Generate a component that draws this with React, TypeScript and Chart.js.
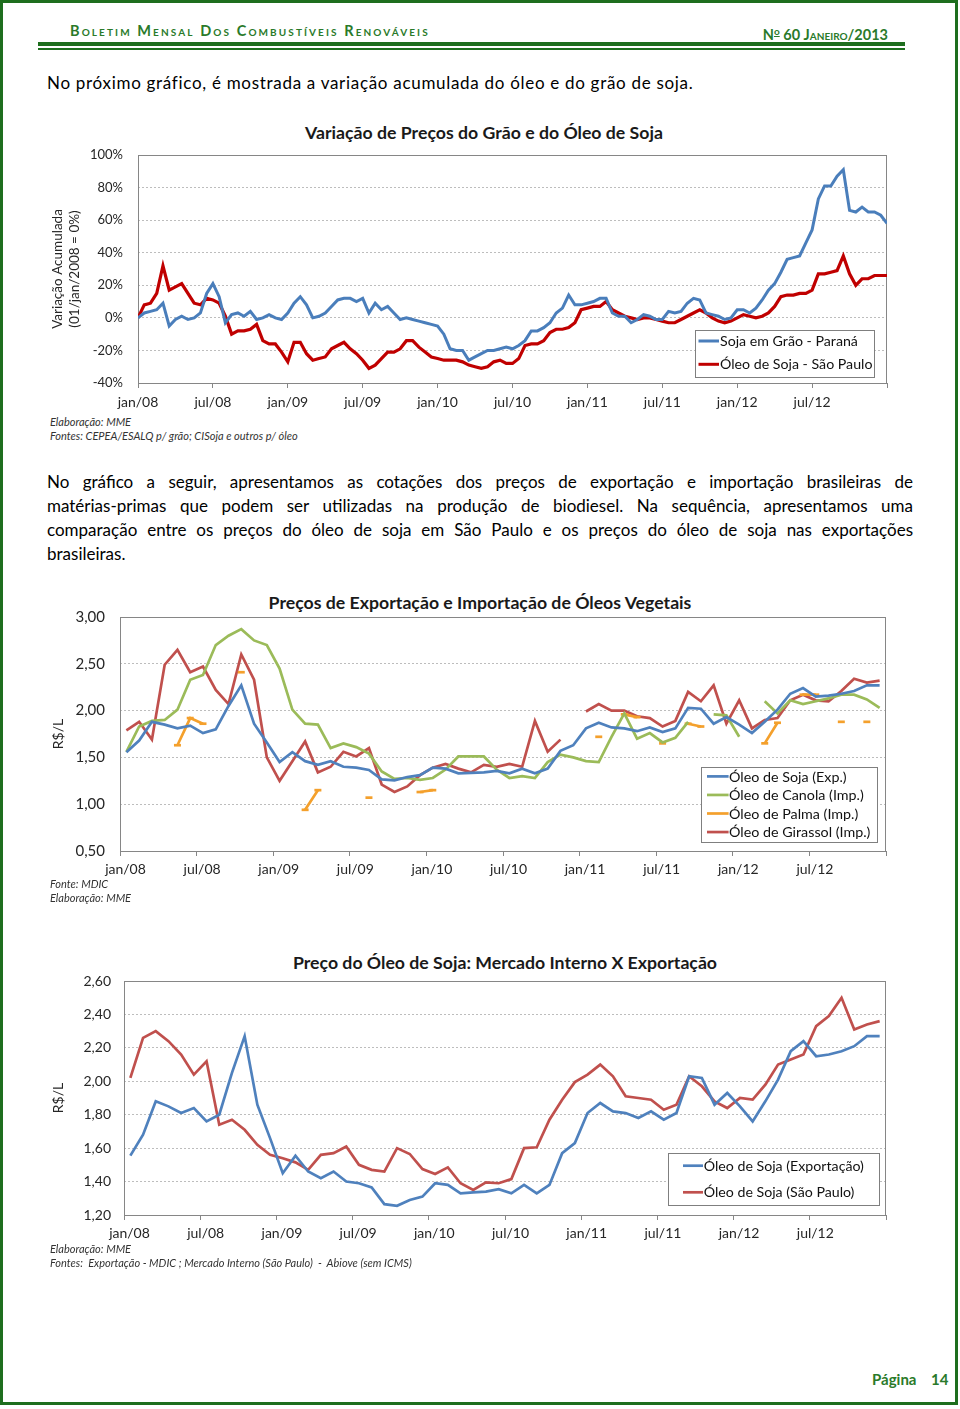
import React, { useEffect, useRef } from 'react';
import { Chart, registerables } from 'chart.js';

Chart.register(...registerables);

const FONT = 'Lato, "Open Sans", sans-serif';
const GREEN = '#1e6e1e';
const TXT = '#262626';

// ---------- shared axis labels ----------
const axisLabels = ['jan/08', 'jul/08', 'jan/09', 'jul/09', 'jan/10', 'jul/10', 'jan/11', 'jul/11', 'jan/12', 'jul/12'];
const tickMonths = [0, 6, 12, 18, 24, 30, 36, 42, 48, 54, 60];

// ---------- Chart 1: accumulated variation (%), semi-monthly samples jan/08 -> jan/13 ----------
const soyGrainParana = [
  0, 3, 4, 5, 9, -5, -1, 1, -1, 0,
  3, 15, 21, 13, -3, 2, 3, 1, 4, -1,
  0, 2, 0, -1, 3, 9, 13, 8, 0, 1,
  3, 7, 11, 12, 12, 10, 12, 3, 9, 5,
  7, 3, -1, 0, -1, -2, -3, -4, -5, -10,
  -19, -20, -20, -26, -24, -22, -20, -20, -19, -18,
  -19, -17, -14, -8, -8, -6, -3, 3, 6, 14,
  8, 8, 9, 10, 12, 12, 3, 1, 1, -3,
  -1, 2, 1, -1, -1, 4, 3, 4, 9, 12,
  11, 3, 2, 1, -1, 0, 5, 5, 3, 6,
  11, 17, 21, 28, 36, 37, 38, 46, 54, 73,
  81, 81, 87, 91, 66, 65, 68, 65, 65, 63,
  58,
];
const soyOilSaoPauloVar = [
  0, 8, 9, 15, 32, 17, 19, 21, 15, 9,
  8, 12, 11, 9, 1, -10, -8, -8, -7, -4,
  -14, -16, -16, -21, -27, -15, -15, -22, -26, -25,
  -24, -19, -17, -15, -19, -22, -26, -31, -29, -25,
  -21, -21, -19, -14, -14, -18, -21, -24, -25, -26,
  -26, -26, -27, -29, -30, -31, -30, -27, -26, -28,
  -28, -25, -17, -16, -16, -14, -9, -7, -7, -6,
  -3, 5, 6, 7, 7, 10, 5, 3, 1, 0,
  -1, 0, 0, -1, -2, -3, -3, -1, 1, 3,
  5, 3, 0, -2, -3, -2, 0, 2, 1, 0,
  1, 3, 7, 13, 14, 14, 15, 15, 17, 27,
  27, 28, 29, 38, 27, 20, 24, 24, 26, 26,
  26,
];

// ---------- Chart 2: monthly prices (R$/L), jan/08 -> dez/12 ----------
const soyOilExport = [
  1.555, 1.68, 1.88, 1.85, 1.81, 1.84, 1.76, 1.80, 2.05, 2.27,
  1.86, 1.66, 1.45, 1.555, 1.46, 1.42, 1.46, 1.40, 1.39, 1.365,
  1.265, 1.255, 1.29, 1.31, 1.39, 1.38, 1.33, 1.335, 1.34, 1.355,
  1.33, 1.38, 1.33, 1.38, 1.57, 1.63, 1.81, 1.87, 1.82, 1.81,
  1.78, 1.82, 1.77, 1.81, 2.03, 2.02, 1.86, 1.93, 1.85, 1.76,
  1.88, 2.01, 2.18, 2.24, 2.15, 2.16, 2.18, 2.21, 2.27, 2.27,
];
const canolaImport = [
  1.56, 1.83, 1.89, 1.90, 2.01, 2.33, 2.38, 2.70, 2.80, 2.87,
  2.75, 2.70, 2.45, 2.01, 1.86, 1.85, 1.60, 1.65, 1.61, 1.54,
  1.35, 1.27, 1.28, 1.26, 1.28, 1.37, 1.51, 1.51, 1.51, 1.37,
  1.28, 1.30, 1.28, 1.45, 1.53, 1.50, 1.46, 1.45, 1.72, 1.97,
  1.70, 1.76, 1.66, 1.71, 1.88, null, 1.96, 1.95, 1.72, null,
  2.10, 1.97, 2.11, 2.07, 2.10, 2.13, 2.17, 2.17, 2.12, 2.03,
];
const palmImport = [
  null, null, null, null, 1.63, 1.92, 1.86, null, null, 2.41,
  null, null, null, null, 0.94, 1.15, null, null, null, 1.07,
  null, null, null, 1.13, 1.15, null, null, null, null, null,
  null, null, null, null, null, null, null, 1.72, null, 1.96,
  1.93, null, 1.65, null, 1.86, 1.83, null, null, null, null,
  1.65, 1.87, null, 2.17, 2.17, null, 1.88, null, 1.88, null,
];
const sunflowerImport = [
  1.79, 1.88, 1.69, 2.49, 2.65, 2.41, 2.47, 2.22, 2.07, 2.60,
  2.33, 1.50, 1.25, 1.46, 1.67, 1.34, 1.40, 1.56, 1.51, 1.60,
  1.21, 1.13, 1.19, 1.31, 1.39, 1.43, 1.38, 1.34, 1.42, 1.40,
  1.43, 1.40, 1.89, 1.56, 1.69, null, 1.99, 2.07, 2.00, 2.00,
  1.94, 1.92, 1.83, 1.89, 2.20, 2.10, 2.27, 1.86, 2.11, 1.81,
  1.90, 1.92, 2.11, 2.17, 2.11, 2.10, 2.21, 2.34, 2.30, 2.32,
];

// ---------- Chart 3: soybean oil, domestic (São Paulo) vs export ----------
const soyOilSaoPaulo = [
  2.02, 2.26, 2.30, 2.24, 2.16, 2.04, 2.12, 1.74, 1.77, 1.71,
  1.62, 1.56, 1.54, 1.515, 1.47, 1.56, 1.57, 1.61, 1.50, 1.47,
  1.46, 1.60, 1.565, 1.475, 1.445, 1.485, 1.39, 1.35, 1.395, 1.39,
  1.415, 1.60, 1.605, 1.77, 1.89, 1.995, 2.04, 2.10, 2.03, 1.91,
  1.90, 1.89, 1.83, 1.86, 2.03, 1.97, 1.88, 1.84, 1.90, 1.89,
  1.98, 2.10, 2.13, 2.16, 2.33, 2.39, 2.50, 2.31, 2.34, 2.36,
];

// ---------- plugins ----------
const plotFrame = {
  id: 'plotFrame',
  beforeDatasetsDraw(chart: any, _args: any, opts: any) {
    const { ctx, chartArea: a } = chart;
    ctx.save();
    ctx.strokeStyle = opts.color || '#888';
    ctx.lineWidth = 1;
    ctx.strokeRect(Math.round(a.left) + 0.5, Math.round(a.top) + 0.5, Math.round(a.width) - 1, Math.round(a.height));
    ctx.restore();
  },
};

const boxLegend = {
  id: 'boxLegend',
  afterDatasetsDraw(chart: any, _args: any, o: any) {
    const { ctx, chartArea: a } = chart;
    const x = a.right - o.right - o.width;
    const y = a.bottom - o.bottom - o.height;
    ctx.save();
    ctx.fillStyle = '#fff';
    ctx.fillRect(x, y, o.width, o.height);
    ctx.strokeStyle = '#7f7f7f';
    ctx.lineWidth = 1;
    ctx.strokeRect(Math.round(x) + 0.5, Math.round(y) + 0.5, Math.round(o.width), Math.round(o.height));
    ctx.font = `${o.fontSize}px ${FONT}`;
    ctx.textBaseline = 'middle';
    chart.data.datasets.forEach((d: any, i: number) => {
      const cy = y + o.firstRow + o.rowStep * i;
      ctx.strokeStyle = d.borderColor;
      ctx.lineWidth = o.lineWidth;
      ctx.beginPath();
      ctx.moveTo(x + o.sampleStart, cy);
      ctx.lineTo(x + o.sampleEnd, cy);
      ctx.stroke();
      ctx.fillStyle = '#111';
      ctx.fillText(d.label, x + o.textStart, cy + 0.5);
    });
    ctx.restore();
  },
};

const monthXAxis = (labelOffset: number, height: number, fontSize: number, pad: number) => ({
  type: 'linear',
  min: 0,
  max: 60,
  afterBuildTicks: (s: any) => {
    s.ticks = tickMonths.map((v) => ({ value: v }));
  },
  afterFit: (s: any) => {
    s.height = height;
  },
  ticks: {
    autoSkip: false,
    maxRotation: 0,
    padding: pad,
    labelOffset,
    color: TXT,
    font: { family: FONT, size: fontSize },
    callback: (v: number) => axisLabels[v / 6] ?? '',
  },
  grid: { drawOnChartArea: false, drawTicks: true, tickLength: 5, color: '#868686' },
  border: { display: false },
});

const commaFmt = (v: number) => v.toFixed(2).replace('.', ',');
const TOP_PAD = 26;

function chart1Config(): any {
  return {
    type: 'line',
    data: {
      datasets: [
        {
          label: 'Soja em Grão - Paraná',
          data: soyGrainParana.map((y, i) => ({ x: i / 2, y })),
          borderColor: '#4a7ebb',
          borderWidth: 3,
          pointRadius: 0,
        },
        {
          label: 'Óleo de Soja - São Paulo',
          data: soyOilSaoPauloVar.map((y, i) => ({ x: i / 2, y })),
          borderColor: '#c00000',
          borderWidth: 3.2,
          pointRadius: 0,
        },
      ],
    },
    options: {
      responsive: false,
      animation: false,
      events: [],
      layout: { padding: { left: 0, top: TOP_PAD, right: 13, bottom: 0 } },
      plugins: {
        legend: { display: false },
        tooltip: { enabled: false },
        plotFrame: { color: '#868686' },
        boxLegend: {
          right: 13, bottom: 6, width: 179, height: 47, firstRow: 11, rowStep: 23.3,
          sampleStart: 3.5, sampleEnd: 24, textStart: 25, fontSize: 14.2, lineWidth: 3,
        },
      },
      scales: {
        x: monthXAxis(0, 32, 14, 6),
        y: {
          min: -40,
          max: 100,
          afterFit: (s: any) => {
            s.width = 98;
          },
          ticks: {
            stepSize: 20,
            padding: 15,
            color: TXT,
            font: { family: FONT, size: 13 },
            callback: (v: number) => `${v}%`,
          },
          grid: { color: '#bdbdbd', drawTicks: false },
          border: { display: false, dash: [2, 2] },
          title: {
            display: true,
            text: ['Variação Acumulada', '(01/jan/2008 = 0%)'],
            color: TXT,
            font: { family: FONT, size: 13.5 },
            padding: { top: 10, bottom: 0 },
          },
        },
      },
    },
    plugins: [plotFrame, boxLegend],
  };
}

function chart2Config(): any {
  const mk = (label: string, arr: (number | null)[], color: string, extra: any = {}) => ({
    label,
    data: arr.map((y, i) => ({ x: i + 0.5, y })),
    borderColor: color,
    backgroundColor: color,
    borderWidth: 2.7,
    pointRadius: 0,
    spanGaps: false,
    ...extra,
  });
  return {
    type: 'line',
    data: {
      datasets: [
        mk('Óleo de Soja (Exp.)', soyOilExport, '#4f81bd'),
        mk('Óleo de Canola (Imp.)', canolaImport, '#9bbb59'),
        mk('Óleo de Palma (Imp.)', palmImport, '#f4a02c', { pointRadius: 3.5, pointStyle: 'line', pointBorderWidth: 2.7, pointBorderColor: '#f4a02c' }),
        mk('Óleo de Girassol (Imp.)', sunflowerImport, '#c0504d'),
      ],
    },
    options: {
      responsive: false,
      animation: false,
      events: [],
      layout: { padding: { left: 0, top: TOP_PAD, right: 14, bottom: 0 } },
      plugins: {
        legend: { display: false },
        tooltip: { enabled: false },
        plotFrame: { color: '#868686' },
        boxLegend: {
          right: 9, bottom: 9, width: 176, height: 74.6, firstRow: 9, rowStep: 18.55,
          sampleStart: 6, sampleEnd: 27.6, textStart: 28, fontSize: 14.3, lineWidth: 2.7,
        },
      },
      scales: {
        x: monthXAxis(5.5, 34, 14, 5),
        y: {
          min: 0.5,
          max: 3,
          afterFit: (s: any) => {
            s.width = 80;
          },
          ticks: { stepSize: 0.5, padding: 15, color: TXT, font: { family: FONT, size: 15 }, callback: commaFmt },
          grid: { color: '#bdbdbd', drawTicks: false },
          border: { display: false, dash: [2, 2] },
          title: {
            display: true,
            text: 'R$/L',
            color: TXT,
            font: { family: FONT, size: 14 },
            padding: { top: 10, bottom: 0 },
          },
        },
      },
    },
    plugins: [plotFrame, boxLegend],
  };
}

function chart3Config(): any {
  const mk = (label: string, arr: number[], color: string) => ({
    label,
    data: arr.map((y, i) => ({ x: i + 0.5, y })),
    borderColor: color,
    borderWidth: 2.7,
    pointRadius: 0,
  });
  return {
    type: 'line',
    data: {
      datasets: [
        mk('Óleo de Soja (Exportação)', soyOilExport, '#4f81bd'),
        mk('Óleo de Soja (São Paulo)', soyOilSaoPaulo, '#c0504d'),
      ],
    },
    options: {
      responsive: false,
      animation: false,
      events: [],
      layout: { padding: { left: 0, top: TOP_PAD, right: 14, bottom: 0 } },
      plugins: {
        legend: { display: false },
        tooltip: { enabled: false },
        plotFrame: { color: '#868686' },
        boxLegend: {
          right: 7, bottom: 10, width: 210.6, height: 51.7, firstRow: 12.4, rowStep: 26.6,
          sampleStart: 14.6, sampleEnd: 34.6, textStart: 35.3, fontSize: 14.2, lineWidth: 2.7,
        },
      },
      scales: {
        x: monthXAxis(5.5, 34, 14, 5),
        y: {
          min: 1.2,
          max: 2.6,
          afterFit: (s: any) => {
            s.width = 84;
          },
          ticks: { stepSize: 0.2, padding: 13, color: TXT, font: { family: FONT, size: 14 }, callback: commaFmt },
          grid: { color: '#bdbdbd', drawTicks: false },
          border: { display: false, dash: [2, 2] },
          title: {
            display: true,
            text: 'R$/L',
            color: TXT,
            font: { family: FONT, size: 14 },
            padding: { top: 10, bottom: 0 },
          },
        },
      },
    },
    plugins: [plotFrame, boxLegend],
  };
}

function ChartBox({ make, left, top, width, height }: { make: () => any; left: number; top: number; width: number; height: number }) {
  const ref = useRef<HTMLCanvasElement>(null);
  useEffect(() => {
    const chart = new Chart(ref.current as HTMLCanvasElement, make());
    return () => chart.destroy();
  }, []);
  return (
    <canvas
      ref={ref}
      width={width}
      height={height}
      style={{ position: 'absolute', left, top, width, height }}
    />
  );
}

const abs = (left: number, top: number, extra: React.CSSProperties = {}): React.CSSProperties => ({
  position: 'absolute',
  left,
  top,
  whiteSpace: 'nowrap',
  ...extra,
});

const note: React.CSSProperties = { fontSize: 11, fontStyle: 'italic', color: '#333', lineHeight: '12px' };
const titleStyle: React.CSSProperties = { fontSize: 17.7, fontWeight: 700, color: '#1a1a1a', lineHeight: '20px', textAlign: 'center', width: 600 };
const bodyStyle: React.CSSProperties = { fontSize: 17, letterSpacing: '0.7px', color: '#000', lineHeight: '24px' };
const headStyle: React.CSSProperties = { fontSize: 14.5, fontWeight: 700, color: '#2a7a2a', lineHeight: '16px' };

const paragraphLines = [
  'No gráfico a seguir, apresentamos as cotações dos preços de exportação e importação brasileiras de',
  'matérias-primas que podem ser utilizadas na produção de biodiesel. Na sequência, apresentamos uma',
  'comparação entre os preços do óleo de soja em São Paulo e os preços do óleo de soja nas exportações',
  'brasileiras.',
];

export default function App() {
  useEffect(() => {
    document.body.style.margin = '0';
  }, []);
  return (
    <div style={{ position: 'absolute', left: 0, top: 0, width: 960, height: 1409, overflow: 'hidden', background: '#fff', fontFamily: FONT }}>
      <div style={{ position: 'absolute', left: 0, top: 0, width: 958, height: 1405, boxSizing: 'border-box', border: `3px solid ${GREEN}` }} />

      {/* header */}
      <div style={abs(70, 23, { ...headStyle, fontVariant: 'small-caps', letterSpacing: '2.1px' })}>
        Boletim Mensal Dos Combustíveis Renováveis
      </div>
      <div style={{ position: 'absolute', right: 72, top: 23, whiteSpace: 'nowrap', ...headStyle }}>
        N<sup style={{ fontSize: 10, textDecoration: 'underline', verticalAlign: '5px' }}>o</sup> 60 <span style={{ fontVariant: 'small-caps' }}>Janeiro</span>/2013
      </div>
      <div style={{ position: 'absolute', left: 38, top: 42, width: 867, height: 4, background: GREEN }} />
      <div style={{ position: 'absolute', left: 38, top: 48, width: 867, height: 2, background: GREEN }} />

      <div style={abs(47, 71, bodyStyle)}>No próximo gráfico, é mostrada a variação acumulada do óleo e do grão de soja.</div>

      {/* chart 1 */}
      <div style={abs(184, 123, titleStyle)}>Variação de Preços do Grão e do Óleo de Soja</div>
      <ChartBox make={chart1Config} left={40} top={155 - TOP_PAD} width={860} height={TOP_PAD + 228 + 32} />
      <div style={abs(50, 416, note)}>Elaboração: MME</div>
      <div style={abs(50, 430, note)}>Fontes: CEPEA/ESALQ p/ grão; CISoja e outros p/ óleo</div>

      {/* paragraph */}
      <div style={{ position: 'absolute', left: 47, top: 470, width: 866, ...bodyStyle, letterSpacing: 'normal' }}>
        {paragraphLines.map((l, i) => (
          <div key={i} style={{ textAlign: 'justify', textAlignLast: i < paragraphLines.length - 1 ? 'justify' : 'left', whiteSpace: 'nowrap' }}>
            {l}
          </div>
        ))}
      </div>

      {/* chart 2 */}
      <div style={abs(180, 593, titleStyle)}>Preços de Exportação e Importação de Óleos Vegetais</div>
      <ChartBox make={chart2Config} left={40} top={617 - TOP_PAD} width={860} height={TOP_PAD + 234 + 34} />
      <div style={abs(50, 878, note)}>Fonte: MDIC</div>
      <div style={abs(50, 892, note)}>Elaboração: MME</div>

      {/* chart 3 */}
      <div style={abs(205, 953, titleStyle)}>Preço do Óleo de Soja: Mercado Interno X Exportação</div>
      <ChartBox make={chart3Config} left={40} top={981 - TOP_PAD} width={860} height={TOP_PAD + 234 + 34} />
      <div style={abs(50, 1243, note)}>Elaboração: MME</div>
      <div style={abs(50, 1257, note)}>Fontes:&nbsp; Exportação - MDIC ; Mercado Interno (São Paulo)&nbsp; -&nbsp; Abiove (sem ICMS)</div>

      {/* footer */}
      <div style={abs(872, 1370, { fontSize: 15, fontWeight: 700, color: '#2a7a2a', lineHeight: '18px' })}>Página</div>
      <div style={abs(931, 1370, { fontSize: 15, fontWeight: 700, color: '#2a7a2a', lineHeight: '18px' })}>14</div>
    </div>
  );
}
